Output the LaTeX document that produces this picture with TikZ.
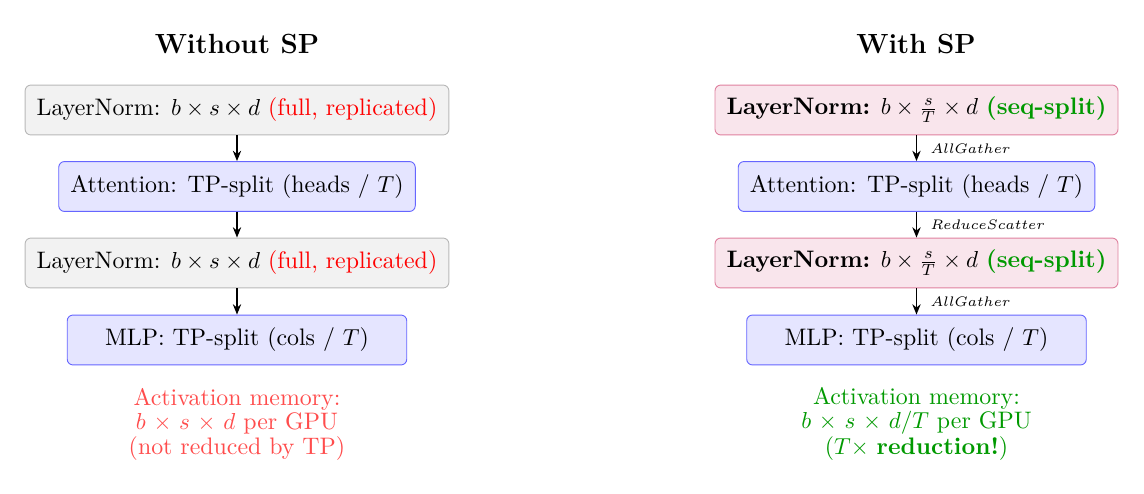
\documentclass[tikz,border=0pt]{standalone}
\usetikzlibrary{arrows.meta}
\definecolor{memred}{rgb}{1,0.3,0.3}
\definecolor{okgreen}{rgb}{0,0.6,0}
\begin{document}
\begin{tikzpicture}[x=0.4329pt,y=-0.4329pt,
  box/.style={rounded corners=2.5pt, minimum width=147pt, minimum height=21.6pt, inner xsep=5pt, font=\fontsize{10.33}{12.4}\selectfont},
  lnfull/.style={box, draw=gray!55, fill=gray!10},
  tpbox/.style={box, draw=blue!60, fill=blue!10},
  lnsplit/.style={box, draw=purple!50, fill=purple!10},
  flow/.style={-{Stealth[length=4.5pt,width=3.6pt]}, semithick},
  comm/.style={right=2.5pt, font=\fontsize{6}{7}\selectfont},
  title/.style={font=\large\bfseries},
  memo/.style={align=center, font=\fontsize{10.33}{9.3}\selectfont}
]
\useasboundingbox (0,0) rectangle (1144,493);
% Left column
\node[title] (tl) at (237,44) {Without SP};
\node[lnfull] (l1) at (237,110) {LayerNorm: $b\times s\times d$ \textcolor{red}{(full, replicated)}};
\node[tpbox] (l2) at (237,186.5) {Attention: TP-split (heads / $T$)};
\node[lnfull] (l3) at (237,263) {LayerNorm: $b\times s\times d$ \textcolor{red}{(full, replicated)}};
\node[tpbox] (l4) at (237,340) {MLP: TP-split (cols / $T$)};
\draw[flow] (l1) -- (l2);
\draw[flow] (l2) -- (l3);
\draw[flow] (l3) -- (l4);
\node[memo, text=memred] (lm) at (237,424) {Activation memory:\\ $b\mkern2mu\times\mkern2mu s\mkern2mu\times\mkern2mu d$ per GPU\\ (not reduced by TP)};
% Right column
\node[title] (tr) at (916,44) {With SP};
\node[lnsplit] (r1) at (916.5,110) {\textbf{LayerNorm:} $b\times \frac{s}{T}\times d$ \textcolor{okgreen}{\textbf{(seq-split)}}};
\node[tpbox] (r2) at (916.5,186.5) {Attention: TP-split (heads / $T$)};
\node[lnsplit] (r3) at (916.5,263) {\textbf{LayerNorm:} $b\times \frac{s}{T}\times d$ \textcolor{okgreen}{\textbf{(seq-split)}}};
\node[tpbox] (r4) at (916.5,340) {MLP: TP-split (cols / $T$)};
\draw[flow] (r1) -- node[comm] {$AllGather$} (r2);
\draw[flow] (r2) -- node[comm] {$ReduceScatter$} (r3);
\draw[flow] (r3) -- node[comm] {$AllGather$} (r4);
\node[memo, text=okgreen] (rm) at (916.5,424) {Activation memory:\\ $b\mkern2mu\times\mkern2mu s\mkern2mu\times\mkern2mu d/T$ per GPU\\ ($T\times$ \textbf{reduction!})};
\end{tikzpicture}
\end{document}
